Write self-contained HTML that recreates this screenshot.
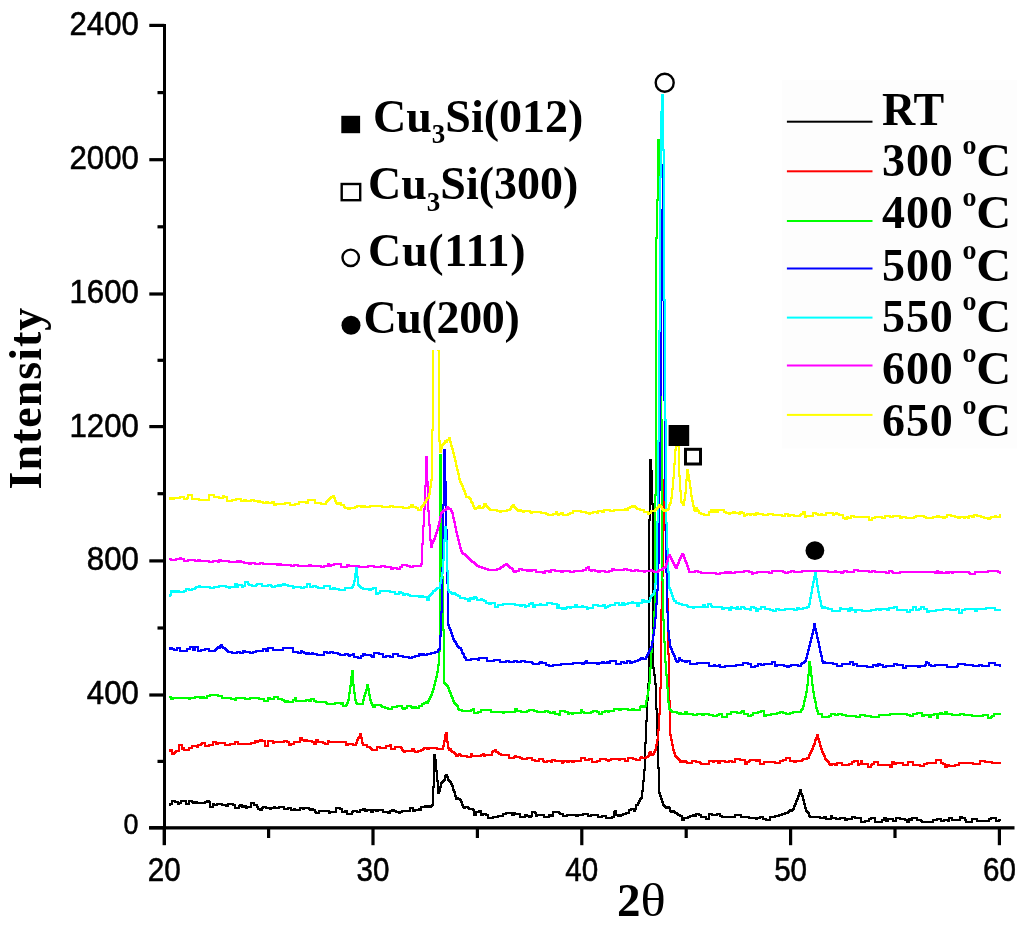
<!DOCTYPE html>
<html><head><meta charset="utf-8"><title>XRD</title>
<style>html,body{margin:0;padding:0;background:#fff;} svg{display:block;will-change:transform;}</style></head>
<body>
<svg width="1024" height="933" viewBox="0 0 1024 933">
<rect width="1024" height="933" fill="#ffffff"/>
<rect x="782" y="80" width="235" height="368.5" fill="#fdfdfd"/>
<path d="M169 805H170V804H172V801H175V802H178V804H179V803H181V801H186V804H189V801H192V802H193V803H195V802H197V803H205V802H207V801H209V802H210V807H213V804H214V805H217V804H222V805H226V806H228V804H233V805H235V808H239V806H240V805H242V807H244V806H246V808H247V807H251V803H254V805H257V807H258V809H260V810H262V808H263V807H266V808H270V809H271V808H274V807H275V808H279V807H284V809H288V808H291V810H294V809H295V810H300V808H303V809H304V808H309V809H310V810H311V809H313V810H315V812H316V813H319V811H329V813H330V812H336V808H340V809H342V812H345V811H347V814H352V812H353V811H357V812H360V810H363V809H365V811H367V810H371V812H373V810H376V811H378V810H383V812H388V813H390V811H392V810H394V811H396V812H399V813H400V812H402V811H410V808H413V811H415V810H419V809H420V810H421V807H425V806H426V807H428V806H430V807H431V806H432V805H433V787H434V755H435V760H436V771H437V781H438V793H439V791H440V787H441V783H442V782H443V781H444V780H445V776H446V775H447V777H448V780H449V781H450V782H451V784H452V786H453V790H454V792H455V796H456V799H457V798H458V799H460V800H461V802H462V805H463V807H464V808H465V807H468V808H469V809H473V810H474V815H476V812H479V811H481V815H483V814H486V815H488V818H493V817H498V816H503V814H506V813H512V815H514V813H515V814H520V817H525V815H527V816H529V817H531V816H532V812H535V813H536V816H537V815H544V817H549V815H551V816H553V812H559V813H560V814H563V816H567V815H576V816H578V815H583V814H588V816H591V815H598V817H602V816H606V818H612V817H614V812H615V811H616V815H618V816H619V815H620V816H621V815H623V814H626V813H629V810H631V809H634V811H635V809H636V805H638V803H639V801H640V799H641V798H642V791H643V781H644V770H645V743H646V721H647V700H648V684H649V520H650V460H651V471H652V504H653V668H654V675H655V684H656V709H657V735H658V768H659V793H660V796H661V799H662V802H663V805H664V806H665V807H666V808H667V807H669V808H670V811H671V812H672V811H674V812H675V813H677V814H678V815H680V816H682V820H684V818H688V817H690V816H693V815H694V816H696V814H699V815H701V817H706V819H709V814H712V815H717V814H720V816H722V817H735V815H741V817H749V818H756V819H757V818H760V817H763V819H766V820H770V817H775V816H779V815H782V814H785V813H788V812H789V811H790V810H791V811H792V810H793V809H794V806H795V804H796V801H797V799H798V796H799V793H800V790H801V794H802V796H803V800H804V804H805V808H806V811H807V812H808V813H809V816H810V817H820V818H824V817H826V819H831V816H832V818H836V819H840V818H845V820H847V819H852V817H855V818H861V822H865V821H869V819H871V818H875V822H882V820H884V818H886V821H888V819H893V821H896V818H900V819H905V820H907V822H909V819H911V820H912V818H917V820H921V821H922V822H933V820H937V819H941V821H944V820H948V821H949V818H952V820H960V817H962V818H965V820H966V822H972V819H977V821H989V819H991V818H996V821H999V820H1001" fill="none" stroke="#000000" stroke-width="2" shape-rendering="crispEdges"/>
<path d="M169 751H170V750H172V754H174V753H175V752H176V751H179V745H182V749H183V748H184V750H189V748H192V746H197V747H198V745H201V744H202V743H205V746H209V745H213V742H216V744H218V743H225V745H230V744H235V742H238V744H251V743H255V741H257V742H258V741H260V740H262V741H265V746H268V741H273V743H274V742H284V741H287V742H289V745H291V744H294V742H300V738H302V740H304V741H306V740H307V741H312V742H314V744H316V740H318V742H323V743H325V744H328V741H329V742H346V745H348V744H353V745H356V743H357V740H358V738H359V737H360V734H361V738H362V743H363V745H367V747H370V748H371V749H372V750H377V747H380V748H386V746H390V745H391V749H395V747H401V748H402V750H403V751H404V752H405V751H412V749H414V751H415V752H418V751H421V750H423V749H424V748H427V749H429V748H437V749H443V746H444V741H445V735H446V733H447V742H448V748H449V750H450V749H451V751H452V752H454V753H455V754H456V756H458V755H459V754H460V755H461V756H467V757H471V754H472V756H481V755H483V754H484V756H485V755H492V752H493V751H495V750H496V752H498V753H499V754H501V755H509V758H514V757H515V756H516V757H520V758H522V759H527V758H532V760H535V761H539V759H543V761H544V762H547V761H551V762H552V760H555V761H562V763H563V762H564V761H567V762H569V761H572V762H574V761H581V758H585V760H589V759H592V762H597V761H600V759H606V760H608V761H609V760H611V759H619V760H620V759H625V761H628V758H633V759H636V760H640V758H641V757H642V758H646V757H648V756H649V753H650V752H651V755H653V754H654V752H655V750H656V745H657V740H658V730H659V714H660V688H661V610H662V576H663V530H664V480H665V500H666V540H667V599H668V654H669V701H670V735H671V740H672V745H673V750H674V753H675V756H676V757H677V758H678V759H679V760H680V762H682V761H684V762H685V761H686V762H687V763H692V761H696V762H700V763H701V764H709V761H713V762H714V761H718V763H720V761H725V762H729V761H732V762H735V759H740V760H745V764H747V762H749V761H750V760H756V761H758V760H760V764H764V762H775V763H780V761H783V760H786V758H790V761H794V762H796V761H802V760H803V759H807V758H809V755H810V753H811V751H812V749H813V746H814V744H815V740H816V738H817V735H818V739H819V742H820V746H821V749H822V752H823V754H824V756H825V759H826V760H827V761H828V762H829V764H830V765H832V764H835V765H837V763H842V765H849V764H852V762H854V761H858V765H859V764H861V761H862V764H868V767H871V765H872V764H874V762H878V765H890V767H892V762H894V764H896V763H903V765H908V762H913V765H920V766H924V764H927V763H936V760H941V763H943V764H945V767H947V765H949V766H955V765H959V763H973V764H980V761H985V762H992V763H1001" fill="none" stroke="#ff0000" stroke-width="2" shape-rendering="crispEdges"/>
<path d="M169 697H171V699H173V698H189V699H190V698H195V697H200V698H202V697H204V698H207V696H210V695H218V696H222V698H231V699H235V700H236V698H245V699H250V698H259V699H264V701H268V698H270V699H274V697H278V699H282V700H284V701H285V702H287V701H288V702H293V700H295V698H296V701H306V700H309V701H311V699H314V701H316V702H326V703H327V704H335V703H341V704H342V703H343V706H346V705H347V703H348V700H349V693H350V686H351V677H352V671H353V685H354V693H355V700H356V703H357V704H363V700H364V696H365V693H366V690H367V685H368V689H369V695H370V700H371V703H372V705H373V707H375V705H381V706H382V707H385V708H388V709H392V707H397V706H402V708H403V709H405V708H407V706H411V707H412V708H414V707H416V708H419V706H422V704H424V703H426V702H427V703H428V701H429V699H430V697H431V695H432V692H433V689H434V685H435V681H436V677H437V672H438V665H439V651H440V455H441V513H442V577H443V630H444V683H445V684H446V685H447V686H448V688H449V691H450V693H451V696H452V698H453V701H454V703H455V704H456V705H457V706H458V709H459V710H462V711H471V710H473V709H474V713H478V712H481V710H491V712H503V713H504V712H515V709H517V711H521V712H527V711H529V710H534V711H537V712H545V711H548V712H550V713H553V712H555V714H559V715H560V711H565V712H568V714H569V713H572V714H573V713H581V710H582V712H584V713H591V712H593V711H597V712H599V714H602V712H605V711H608V712H609V711H614V709H619V710H621V709H628V710H632V709H634V710H640V707H641V706H643V707H645V706H646V701H647V696H648V690H649V683H650V668H651V652H652V641H653V630H654V612H655V495H656V238H657V200H658V140H659V194H660V336H661V420H662V580H663V620H664V642H665V662H666V675H667V688H668V702H669V709H670V710H671V711H672V712H677V713H679V714H680V713H681V714H685V712H687V714H693V715H697V714H702V715H704V714H709V715H713V716H717V715H719V714H722V717H727V714H731V712H737V713H741V712H742V711H744V714H748V716H751V715H753V713H758V712H761V711H764V716H766V715H771V714H777V713H780V712H783V713H786V714H790V713H793V712H801V710H802V709H803V706H804V701H805V697H806V692H807V685H808V675H809V662H810V667H811V676H812V685H813V692H814V698H815V702H816V708H817V711H818V714H822V717H829V716H831V714H835V715H838V714H842V715H846V716H856V717H860V715H865V716H871V717H879V715H890V714H907V715H910V716H913V714H917V713H922V716H924V715H929V717H931V715H934V714H937V718H938V714H940V713H942V714H945V712H947V714H952V715H960V714H964V715H972V716H983V715H988V718H991V717H992V716H994V714H1001" fill="none" stroke="#00ff00" stroke-width="2" shape-rendering="crispEdges"/>
<path d="M169 649H170V648H172V649H174V650H177V648H180V651H187V649H190V647H193V650H195V647H198V651H201V650H205V649H209V651H215V650H216V649H217V648H218V647H219V648H220V646H221V645H222V647H223V648H225V649H226V650H227V651H228V652H232V653H237V652H240V653H243V651H245V652H250V653H253V652H256V651H263V649H266V651H268V648H273V650H283V648H293V652H298V653H301V651H302V652H304V653H306V654H307V653H309V654H312V653H313V654H317V655H324V652H327V653H330V652H333V653H338V654H340V655H345V654H348V655H349V656H350V655H353V654H354V657H358V658H361V656H363V654H365V655H371V656H372V657H374V653H379V654H383V657H386V656H390V657H393V654H398V656H403V657H409V658H412V657H415V656H419V654H421V655H422V654H424V655H427V654H431V653H435V652H438V650H439V649H440V636H441V612H442V568H443V505H444V450H445V482H446V530H447V583H448V625H449V628H450V630H451V633H452V636H453V639H454V641H455V642H456V644H457V646H458V647H459V648H461V650H462V653H463V654H464V657H465V658H466V660H471V659H478V660H479V658H487V661H494V660H500V662H506V661H509V662H514V661H517V662H521V661H525V662H532V663H533V664H539V663H540V662H542V663H546V665H549V666H553V665H561V664H573V663H582V664H584V663H585V662H586V661H587V663H597V664H599V663H602V662H604V663H607V662H608V663H610V661H616V664H621V662H624V663H627V661H630V663H632V662H635V661H638V660H640V659H641V658H643V659H646V657H647V655H648V653H649V651H650V649H651V647H652V642H653V635H654V628H655V618H656V604H657V590H658V563H659V490H660V395H661V300H662V210H663V165H664V400H665V500H666V572H667V612H668V631H669V640H670V647H671V649H672V652H673V654H674V656H675V659H676V661H677V662H678V661H679V658H680V660H682V661H685V662H687V661H690V664H697V663H709V666H714V665H715V666H719V665H720V667H725V666H736V665H743V663H748V664H751V667H755V666H758V664H761V665H764V664H772V662H775V666H777V665H784V666H787V667H789V666H791V665H798V666H801V664H802V663H804V662H805V661H806V658H807V654H808V650H809V646H810V642H811V638H812V634H813V630H814V624H815V629H816V633H817V638H818V642H819V647H820V652H821V656H822V661H823V663H824V662H825V663H833V664H837V666H842V664H850V662H853V665H854V664H857V666H867V667H873V665H876V666H878V664H880V665H883V667H886V666H894V664H897V665H903V668H906V666H918V667H920V666H925V665H926V662H927V663H929V665H931V666H935V665H947V667H957V666H958V664H965V665H973V666H979V665H982V666H989V663H995V665H1000V666H1001" fill="none" stroke="#0000ff" stroke-width="2" shape-rendering="crispEdges"/>
<path d="M169 596H170V595H171V591H173V592H174V591H175V592H177V591H179V592H184V591H186V589H189V590H192V589H195V588H196V587H199V586H200V587H210V588H214V587H219V586H226V587H229V588H230V587H235V584H237V587H238V585H242V587H243V586H245V582H248V584H249V585H252V586H256V585H257V584H262V586H268V585H271V586H272V587H275V586H278V585H280V586H281V585H283V584H285V585H288V586H293V588H294V587H301V588H304V587H307V584H310V587H313V586H316V587H318V588H324V586H330V589H333V588H335V589H339V590H345V588H352V587H353V585H354V581H355V574H356V568H357V577H358V585H359V586H360V587H361V588H363V589H369V590H371V589H373V588H376V594H378V593H380V591H390V592H395V594H399V592H401V593H403V595H405V594H408V595H410V596H419V597H421V596H423V597H427V600H429V596H430V595H431V594H432V593H433V591H435V590H436V589H437V588H440V583H441V578H442V573H443V560H444V540H445V527H446V541H447V571H448V590H449V592H451V593H452V594H454V593H455V594H456V595H458V596H460V598H465V599H468V601H470V598H472V599H474V597H476V598H477V600H481V599H482V600H484V601H486V603H489V604H491V603H495V607H498V605H503V604H515V605H520V606H522V605H525V607H526V606H529V604H531V603H533V607H535V605H540V604H541V605H547V603H552V604H557V608H558V605H559V608H562V609H563V608H564V609H566V608H567V607H570V608H571V607H575V605H577V607H582V606H583V607H587V609H588V608H593V605H598V606H603V605H605V608H606V607H608V606H610V605H615V603H619V605H622V603H624V605H625V604H628V603H632V602H633V603H637V606H639V603H642V600H644V602H645V601H647V602H649V601H650V598H651V596H652V595H653V594H654V591H655V584H656V572H657V522H658V441H659V331H660V177H661V112H662V95H663V150H664V300H665V420H666V523H667V549H668V572H669V588H670V590H671V593H672V596H673V599H674V601H676V603H679V604H682V605H687V606H688V607H693V608H694V607H703V605H705V607H708V604H711V606H712V607H722V609H724V608H729V610H731V607H732V608H736V609H737V607H738V609H741V607H744V608H745V609H750V610H751V607H754V608H756V611H758V609H761V607H765V609H770V610H773V611H776V609H779V610H785V609H794V610H797V608H799V609H803V608H807V607H809V604H810V598H811V593H812V587H813V582H814V577H815V571H816V579H817V586H818V592H819V597H820V601H821V606H822V608H823V607H825V608H828V609H832V611H840V608H841V609H848V611H850V608H852V610H855V612H856V610H862V611H871V610H876V609H879V610H881V609H887V610H889V608H894V607H897V610H907V612H910V610H913V607H916V610H919V609H921V607H924V609H927V612H929V611H936V610H943V609H950V610H956V609H959V613H962V610H965V609H975V611H977V609H986V608H995V610H1001" fill="none" stroke="#00ffff" stroke-width="2" shape-rendering="crispEdges"/>
<path d="M169 559H171V560H176V559H180V558H181V559H184V561H188V560H195V561H198V560H200V561H209V562H213V561H218V562H219V560H221V561H229V562H237V561H238V562H239V561H241V562H244V563H249V564H251V563H255V564H260V563H263V564H277V565H279V564H281V565H291V566H294V565H298V566H309V565H311V566H321V567H324V566H328V564H329V566H331V565H334V564H341V567H347V565H349V566H359V567H368V566H374V567H381V566H385V567H391V569H393V568H397V569H400V567H402V565H407V566H410V567H413V566H421V564H422V544H423V526H424V509H425V486H426V457H427V482H428V511H429V525H430V540H431V547H432V543H433V541H434V539H435V536H436V533H437V530H438V526H439V522H440V517H441V513H442V512H443V511H444V510H446V509H447V507H448V508H449V509H451V511H452V513H453V518H454V522H455V527H456V532H457V536H458V540H459V544H460V548H461V551H462V553H463V554H465V555H466V556H467V557H468V558H469V559H470V560H471V561H472V562H474V563H475V564H476V565H477V566H479V567H482V568H485V569H488V570H497V569H500V568H501V567H503V566H504V565H506V564H507V565H508V566H509V567H510V568H512V569H513V571H514V572H516V571H519V569H522V570H527V571H529V570H530V571H532V570H536V572H543V573H545V571H549V572H551V570H555V571H561V572H563V571H570V572H574V571H583V570H586V568H588V567H589V570H591V571H592V570H595V571H598V572H600V571H605V572H609V571H612V569H614V570H624V569H627V570H631V571H635V570H638V571H644V572H645V571H651V570H652V571H654V572H658V571H659V570H662V569H663V568H665V567H666V564H667V561H668V557H669V555H670V557H671V559H672V561H673V563H674V565H675V567H676V568H677V565H678V563H679V560H680V558H681V556H682V554H683V555H684V558H685V561H686V563H687V566H688V569H689V572H695V571H698V572H701V573H716V574H720V573H725V572H727V573H729V572H731V573H735V572H744V571H749V572H752V574H753V573H757V572H769V573H772V571H783V572H785V573H788V572H791V571H794V572H802V571H828V572H835V571H836V572H841V573H843V572H844V571H847V572H854V570H858V571H869V572H872V571H875V572H886V573H889V571H892V572H893V573H900V572H935V573H937V571H938V572H939V573H940V572H942V573H946V572H947V573H949V572H952V573H953V572H969V573H970V574H975V572H988V571H998V572H1000V573H1001" fill="none" stroke="#ff00ff" stroke-width="2" shape-rendering="crispEdges"/>
<path d="M169 499H170V498H172V499H174V498H180V497H184V499H187V498H188V495H192V499H199V500H209V495H214V497H219V498H223V496H224V497H227V501H232V500H236V499H241V501H244V500H246V501H251V500H254V501H258V502H259V501H260V502H263V503H266V502H268V503H272V502H274V505H276V504H285V503H290V505H295V504H299V502H306V503H308V500H315V503H321V504H326V502H327V501H328V500H329V499H330V498H331V497H333V496H334V498H335V501H336V503H337V504H339V503H341V505H344V507H345V508H348V509H350V508H355V507H357V506H361V507H363V506H365V507H370V506H382V507H390V506H393V507H403V508H409V507H411V505H413V507H416V508H418V510H421V507H422V506H423V505H424V503H425V502H426V500H427V498H429V494H430V487H431V480H432V430H433V300H438V350H439V441H440V452H441V448H442V445H443V444H444V443H445V441H446V442H447V440H449V438H450V442H451V446H452V449H453V453H454V457H455V461H456V466H457V470H458V474H459V479H460V482H461V484H462V486H463V489H464V491H465V494H466V497H469V498H470V499H471V502H472V503H473V506H474V508H475V509H476V508H478V507H479V506H480V508H483V507H484V504H486V506H487V507H488V508H489V509H490V510H497V511H500V512H501V511H507V510H510V509H511V507H512V506H513V505H514V507H515V508H516V509H517V510H518V511H519V510H521V511H523V512H524V511H530V512H531V513H532V512H541V513H546V514H548V515H553V514H556V512H557V514H558V515H559V514H561V513H563V515H568V514H570V513H573V511H581V512H586V513H589V514H590V513H593V512H597V513H598V511H602V512H604V510H610V511H614V510H625V509H626V510H628V508H630V507H632V506H633V507H634V506H635V507H636V508H637V509H640V510H644V512H648V514H649V513H651V511H655V510H656V509H657V508H658V507H659V505H660V506H661V507H662V509H663V510H664V511H666V510H668V509H669V505H670V503H671V498H672V489H673V478H674V464H675V450H676V442H677V438H678V446H679V476H680V491H681V502H682V503H683V505H684V500H685V493H686V480H687V470H688V475H689V481H690V488H691V496H692V501H693V506H694V510H695V511H696V508H697V510H698V511H699V513H701V514H704V515H709V512H711V510H712V512H714V510H716V512H718V510H724V512H726V513H729V514H730V513H733V512H735V513H739V514H740V512H742V513H744V516H745V515H747V514H750V515H751V514H754V515H756V513H758V514H763V515H768V514H773V515H782V516H785V514H788V516H790V515H794V516H800V515H801V514H803V512H805V517H806V516H813V513H816V514H818V515H821V514H822V515H826V513H833V515H834V514H836V513H837V514H839V515H843V518H845V519H847V517H848V518H851V516H854V517H869V520H872V518H875V517H882V518H885V516H890V517H893V516H900V518H902V517H906V518H914V517H916V516H924V517H926V518H933V517H937V516H939V517H943V518H945V517H947V515H951V516H955V517H958V518H960V517H964V518H965V517H968V518H969V516H972V517H974V515H977V516H981V517H984V518H988V519H990V518H991V517H995V516H996V517H1000V515H1001" fill="none" stroke="#ffff00" stroke-width="2" shape-rendering="crispEdges"/>
<rect x="163" y="24" width="3" height="821" fill="#000"/>
<rect x="149" y="826.2" width="865.5" height="3.3" fill="#000"/>
<rect x="149.3" y="826.1" width="15" height="3.2" fill="#000"/>
<rect x="149.3" y="693.4" width="15" height="3.2" fill="#000"/>
<rect x="149.3" y="559.3" width="15" height="3.2" fill="#000"/>
<rect x="149.3" y="425.0" width="15" height="3.2" fill="#000"/>
<rect x="149.3" y="292.4" width="15" height="3.2" fill="#000"/>
<rect x="149.3" y="158.1" width="15" height="3.2" fill="#000"/>
<rect x="149.3" y="23.8" width="15" height="3.2" fill="#000"/>
<rect x="157.5" y="759.8" width="6" height="3.2" fill="#000"/>
<rect x="157.5" y="626.4" width="6" height="3.2" fill="#000"/>
<rect x="157.5" y="492.1" width="6" height="3.2" fill="#000"/>
<rect x="157.5" y="358.7" width="6" height="3.2" fill="#000"/>
<rect x="157.5" y="225.2" width="6" height="3.2" fill="#000"/>
<rect x="157.5" y="91.0" width="6" height="3.2" fill="#000"/>
<rect x="162.6" y="828" width="3.2" height="17.2" fill="#000"/>
<rect x="371.4" y="828" width="3.2" height="17.2" fill="#000"/>
<rect x="580.2" y="828" width="3.2" height="17.2" fill="#000"/>
<rect x="789.0" y="828" width="3.2" height="17.2" fill="#000"/>
<rect x="997.8" y="828" width="3.2" height="17.2" fill="#000"/>
<rect x="267.0" y="828" width="3.2" height="10" fill="#000"/>
<rect x="475.8" y="828" width="3.2" height="10" fill="#000"/>
<rect x="684.6" y="828" width="3.2" height="10" fill="#000"/>
<rect x="893.4" y="828" width="3.2" height="10" fill="#000"/>
<text transform="translate(138.4,833.9) scale(0.84,0.93)" font-family="Liberation Sans" font-size="32" stroke="#000" stroke-width="0.55" text-anchor="end">0</text>
<text transform="translate(138.9,704.2) scale(0.975,1.03)" font-family="Liberation Sans" font-size="32" stroke="#000" stroke-width="0.55" text-anchor="end">400</text>
<text transform="translate(138.9,569.8) scale(0.975,1.03)" font-family="Liberation Sans" font-size="32" stroke="#000" stroke-width="0.55" text-anchor="end">800</text>
<text transform="translate(138.9,437.3) scale(0.975,1.03)" font-family="Liberation Sans" font-size="32" stroke="#000" stroke-width="0.55" text-anchor="end">1200</text>
<text transform="translate(138.9,303.1) scale(0.975,1.03)" font-family="Liberation Sans" font-size="32" stroke="#000" stroke-width="0.55" text-anchor="end">1600</text>
<text transform="translate(138.9,168.9) scale(0.975,1.03)" font-family="Liberation Sans" font-size="32" stroke="#000" stroke-width="0.55" text-anchor="end">2000</text>
<text transform="translate(138.9,34.9) scale(0.975,1.03)" font-family="Liberation Sans" font-size="32" stroke="#000" stroke-width="0.55" text-anchor="end">2400</text>
<text transform="translate(164.2,880.8) scale(0.925,1.03)" font-family="Liberation Sans" font-size="32" stroke="#000" stroke-width="0.55" text-anchor="middle">20</text>
<text transform="translate(373.0,880.8) scale(0.925,1.03)" font-family="Liberation Sans" font-size="32" stroke="#000" stroke-width="0.55" text-anchor="middle">30</text>
<text transform="translate(581.8,880.8) scale(0.925,1.03)" font-family="Liberation Sans" font-size="32" stroke="#000" stroke-width="0.55" text-anchor="middle">40</text>
<text transform="translate(790.6,880.8) scale(0.925,1.03)" font-family="Liberation Sans" font-size="32" stroke="#000" stroke-width="0.55" text-anchor="middle">50</text>
<text transform="translate(999.4,880.8) scale(0.925,1.03)" font-family="Liberation Sans" font-size="32" stroke="#000" stroke-width="0.55" text-anchor="middle">60</text>
<text transform="translate(41,489.5) rotate(-90)" font-family="Liberation Serif" font-weight="bold" font-size="46" letter-spacing="1">Intensity</text>
<text x="617" y="916" font-family="Liberation Serif" font-size="47" font-weight="bold">2</text><text transform="translate(640.5,916) scale(1.12,1)" font-family="Liberation Serif" font-size="47">&#952;</text>
<rect x="336" y="92" width="250" height="258" fill="#ffffff"/>
<rect x="341.3" y="115.8" width="18.8" height="17.4" fill="#000"/>
<text x="373" y="131.9" font-family="Liberation Serif" font-weight="bold" font-size="46">Cu<tspan font-size="27" dy="11.4">3</tspan><tspan dy="-11.4">Si(012)</tspan></text>
<rect x="341.7" y="184" width="18.5" height="16.2" fill="none" stroke="#000" stroke-width="2.4"/>
<text x="368" y="199.1" font-family="Liberation Serif" font-weight="bold" font-size="46">Cu<tspan font-size="27" dy="11.4">3</tspan><tspan dy="-11.4">Si(300)</tspan></text>
<circle cx="350.7" cy="257.8" r="8.2" fill="none" stroke="#000" stroke-width="2.4"/>
<text x="368" y="265.7" font-family="Liberation Serif" font-weight="bold" font-size="46" letter-spacing="0.7">Cu(111)</text>
<circle cx="351" cy="325.3" r="9.5" fill="#000"/>
<text x="363.5" y="333" font-family="Liberation Serif" font-weight="bold" font-size="46" letter-spacing="-0.35">Cu(200)</text>
<circle cx="664.7" cy="82.8" r="9" fill="#fff" stroke="#000" stroke-width="2.4"/>
<rect x="668.6" y="425" width="20.6" height="21" fill="#000"/>
<rect x="685.5" y="449.3" width="15" height="14.7" fill="#fff" stroke="#000" stroke-width="3"/>
<circle cx="814.9" cy="550.6" r="9.4" fill="#000"/>
<rect x="786.9" y="120.7" width="85.6" height="2" fill="#000000"/>
<rect x="786.9" y="170.3" width="85.6" height="2" fill="#ff0000"/>
<rect x="786.9" y="220.0" width="85.6" height="2" fill="#00ff00"/>
<rect x="786.9" y="267.5" width="85.6" height="2" fill="#0000ff"/>
<rect x="786.9" y="316.6" width="85.6" height="2" fill="#00ffff"/>
<rect x="786.9" y="364.5" width="85.6" height="2" fill="#ff00ff"/>
<rect x="786.9" y="413.9" width="85.6" height="2" fill="#ffff00"/>
<text x="882" y="124.6" font-family="Liberation Serif" font-weight="bold" font-size="46">RT</text>
<text x="882" y="176.0" font-family="Liberation Serif" font-weight="bold" font-size="46" letter-spacing="0.9">300</text>
<text x="962.5" y="154.0" font-family="Liberation Serif" font-weight="bold" font-size="28">o</text>
<text transform="translate(976.3,176.0) scale(1.05,1.03)" font-family="Liberation Serif" font-weight="bold" font-size="46">C</text>
<text x="882" y="227.6" font-family="Liberation Serif" font-weight="bold" font-size="46" letter-spacing="0.9">400</text>
<text x="962.5" y="205.6" font-family="Liberation Serif" font-weight="bold" font-size="28">o</text>
<text transform="translate(976.3,227.6) scale(1.05,1.03)" font-family="Liberation Serif" font-weight="bold" font-size="46">C</text>
<text x="882" y="281.0" font-family="Liberation Serif" font-weight="bold" font-size="46" letter-spacing="0.9">500</text>
<text x="962.5" y="259.0" font-family="Liberation Serif" font-weight="bold" font-size="28">o</text>
<text transform="translate(976.3,281.0) scale(1.05,1.03)" font-family="Liberation Serif" font-weight="bold" font-size="46">C</text>
<text x="882" y="331.7" font-family="Liberation Serif" font-weight="bold" font-size="46" letter-spacing="0.9">550</text>
<text x="962.5" y="309.7" font-family="Liberation Serif" font-weight="bold" font-size="28">o</text>
<text transform="translate(976.3,331.7) scale(1.05,1.03)" font-family="Liberation Serif" font-weight="bold" font-size="46">C</text>
<text x="882" y="383.8" font-family="Liberation Serif" font-weight="bold" font-size="46" letter-spacing="0.9">600</text>
<text x="962.5" y="361.8" font-family="Liberation Serif" font-weight="bold" font-size="28">o</text>
<text transform="translate(976.3,383.8) scale(1.05,1.03)" font-family="Liberation Serif" font-weight="bold" font-size="46">C</text>
<text x="882" y="436.0" font-family="Liberation Serif" font-weight="bold" font-size="46" letter-spacing="0.9">650</text>
<text x="962.5" y="414.0" font-family="Liberation Serif" font-weight="bold" font-size="28">o</text>
<text transform="translate(976.3,436.0) scale(1.05,1.03)" font-family="Liberation Serif" font-weight="bold" font-size="46">C</text>
</svg>
</body></html>
